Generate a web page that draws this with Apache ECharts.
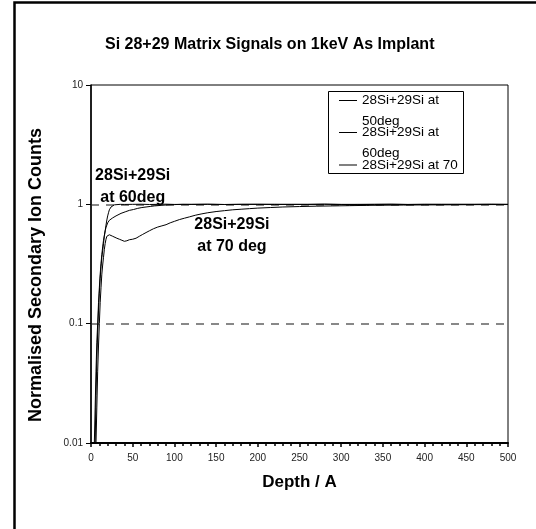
<!DOCTYPE html>
<html>
<head>
<meta charset="utf-8">
<script src="https://cdn.jsdelivr.net/npm/echarts@6/dist/echarts.min.js"></script>
<style>
html, body { margin: 0; padding: 0; background: #fff; }
#main { width: 536px; height: 529px; }
</style>
</head>
<body>
<div id="main"></div>
<script>
// depth (A) and normalised counts
var depth50 = [5, 6, 7, 8, 9, 10, 11, 12, 13, 14, 15, 16, 17, 18, 19, 20, 21, 22, 23, 24, 25, 26, 28, 30, 35, 40, 50, 60, 70, 80, 90, 100, 120, 140, 160, 180, 200, 220, 240, 260, 280, 300, 320, 340, 360, 380, 400, 420, 440, 460, 480, 500];
var val50 = [0.01, 0.025, 0.05, 0.085, 0.13, 0.18, 0.24, 0.3, 0.36, 0.41, 0.47, 0.54, 0.6, 0.67, 0.74, 0.8, 0.85, 0.9, 0.93, 0.95, 0.965, 0.975, 0.99, 0.995, 1.0, 0.998, 1.0, 1.002, 0.997, 1.0, 1.003, 0.998, 1.0, 1.002, 0.997, 1.0, 0.999, 1.002, 0.998, 1.0, 1.003, 0.997, 1.0, 0.999, 1.002, 0.998, 1.0, 1.001, 0.997, 1.0, 1.002, 1.0];

var depth60 = [4, 5, 6, 7, 8, 9, 10, 11, 12, 13, 14, 15, 16, 17, 18, 19, 20, 22, 24, 26, 30, 36, 41, 46, 51, 56, 61, 66, 71, 76, 84, 92, 100, 110, 120, 140, 160, 180, 200, 220, 240, 260, 280, 300, 320, 340, 360, 380, 400, 420, 440, 460, 480, 500];
var val60 = [0.01, 0.02, 0.04, 0.07, 0.1, 0.15, 0.2, 0.26, 0.32, 0.38, 0.44, 0.5, 0.55, 0.6, 0.64, 0.67, 0.7, 0.735, 0.755, 0.77, 0.8, 0.84, 0.865, 0.89, 0.905, 0.925, 0.94, 0.95, 0.96, 0.97, 0.98, 0.99, 0.995, 1.0, 0.998, 1.001, 0.997, 1.0, 1.002, 0.996, 1.0, 0.998, 1.002, 0.999, 0.996, 1.0, 1.001, 0.997, 1.0, 0.998, 1.002, 0.999, 1.0, 0.998];

var depth70 = [6, 7, 8, 9, 10, 11, 12, 13, 14, 15, 16, 17, 18, 19, 20, 22, 24, 26, 28, 31, 34, 37, 40, 43, 46, 50, 54, 58, 62, 66, 70, 75, 80, 85, 90, 95, 100, 106, 112, 118, 125, 132, 140, 150, 160, 170, 180, 190, 200, 215, 230, 250, 270, 290, 310, 330, 350, 375, 400, 425, 450, 475, 500];
var val70 = [0.01, 0.02, 0.04, 0.065, 0.1, 0.15, 0.2, 0.26, 0.31, 0.36, 0.42, 0.47, 0.51, 0.54, 0.553, 0.556, 0.55, 0.54, 0.535, 0.52, 0.51, 0.5, 0.49, 0.495, 0.505, 0.51, 0.52, 0.54, 0.56, 0.58, 0.6, 0.625, 0.645, 0.66, 0.675, 0.7, 0.72, 0.745, 0.765, 0.785, 0.81, 0.83, 0.85, 0.87, 0.885, 0.9, 0.91, 0.92, 0.93, 0.94, 0.95, 0.958, 0.965, 0.97, 0.975, 0.98, 0.983, 0.986, 0.989, 0.99, 0.993, 0.995, 0.996];

var seriesNames = ['28Si+29Si at\n50deg', '28Si+29Si at\n60deg', '28Si+29Si at 70'];
var yTicks = [0.01, 0.1, 1, 10];

function pairs(xs, ys) {
    return xs.map(function (x, i) { return [x, ys[i]]; });
}

var FONT = "'Liberation Sans', Arial, sans-serif";

var myChart = echarts.init(document.getElementById('main'));

// one legend per entry so the line marker sits on the first text line
function legendFor(name, top) {
    return {
        data: [name],
        left: 339,
        top: top,
        padding: 0,
        itemWidth: 18,
        itemHeight: 1,
        icon: 'rect',
        selectedMode: false,
        formatter: function (n) {
            var parts = n.split('\n');
            if (parts.length === 1) return n;
            return '{e| }\n{t|' + parts.join('}\n{t|') + '}';
        },
        textStyle: {
            fontFamily: FONT,
            fontSize: 13.5,
            color: '#000',
            lineHeight: 14,
            rich: {
                e: { fontSize: 13.5, lineHeight: 21 },
                t: { fontFamily: FONT, fontSize: 13.5, color: '#000', lineHeight: 21 }
            }
        }
    };
}

option = {
    animation: false,
    backgroundColor: '#fff',
    title: {
        text: 'Si 28+29 Matrix Signals on 1keV As Implant',
        left: 105,
        top: 37,
        padding: 0,
        textStyle: { fontFamily: FONT, fontSize: 16, fontWeight: 'bold', color: '#000' }
    },
    legend: [
        legendFor(seriesNames[0], 69),
        legendFor(seriesNames[1], 101),
        legendFor(seriesNames[2], 158)
    ],
    grid: {
        left: 91, right: 28, top: 85, bottom: 86,
        show: true, borderColor: '#000', borderWidth: 1
    },
    xAxis: {
        type: 'value',
        min: 0, max: 500, interval: 50,
        name: 'Depth / A',
        nameLocation: 'middle',
        nameGap: 31,
        nameTextStyle: { fontFamily: FONT, fontSize: 17, fontWeight: 'bold', color: '#000' },
        axisLine: { lineStyle: { color: '#000', width: 2 } },
        axisTick: { length: 4, lineStyle: { color: '#000', width: 1.5 } },
        minorTick: { show: true, splitNumber: 5, length: 3, lineStyle: { color: '#000', width: 1.5 } },
        splitLine: { show: false },
        axisLabel: { fontFamily: FONT, fontSize: 10, color: '#222', margin: 10 }
    },
    yAxis: {
        type: 'log',
        logBase: 10,
        min: yTicks[0], max: yTicks[yTicks.length - 1],
        name: 'Normalised Secondary Ion Counts',
        nameLocation: 'middle',
        nameGap: 46,
        nameTextStyle: { fontFamily: FONT, fontSize: 18, fontWeight: 'bold', color: '#000', padding: [0, 22, 0, 0] },
        axisLine: { lineStyle: { color: '#000', width: 1.5 } },
        axisTick: { length: 5, lineStyle: { color: '#000' } },
        splitLine: {
            show: true, showMinLine: false, showMaxLine: false,
            lineStyle: { color: '#888', width: 2, type: [8, 7] }
        },
        axisLabel: {
            fontFamily: FONT, fontSize: 10, color: '#222', margin: 8,
            formatter: function (v) { return String(v); }
        }
    },
    series: [
        { name: seriesNames[0], type: 'line', data: pairs(depth50, val50), showSymbol: false, lineStyle: { color: '#000', width: 1 }, itemStyle: { color: '#000' } },
        { name: seriesNames[1], type: 'line', data: pairs(depth60, val60), showSymbol: false, lineStyle: { color: '#000', width: 1 }, itemStyle: { color: '#000' } },
        { name: seriesNames[2], type: 'line', data: pairs(depth70, val70), showSymbol: false, lineStyle: { color: '#000', width: 1 }, itemStyle: { color: '#000' } }
    ]
};
myChart.setOption(option);

// annotations placed at data positions, plus the outer frame and legend box
var a1 = myChart.convertToPixel({ gridIndex: 0 }, [50, 1.4]);
var a2 = myChart.convertToPixel({ gridIndex: 0 }, [169, 0.55]);
var annoStyle = { fontFamily: FONT, fontSize: 16, fontWeight: 'bold', fill: '#000', align: 'center', verticalAlign: 'middle', lineHeight: 22 };
myChart.setOption({
    graphic: [
        { type: 'rect', left: 12, top: 0, shape: { width: 600, height: 600 }, style: { fill: 'none', stroke: '#000', lineWidth: 2.5 }, silent: true },
        { type: 'rect', left: 326, top: 89, shape: { width: 135, height: 82 }, style: { fill: 'none', stroke: '#000', lineWidth: 1 }, silent: true, z: 10 },
        { type: 'text', x: a1[0], y: a1[1], style: Object.assign({ text: '28Si+29Si\nat 60deg' }, annoStyle), z: 10 },
        { type: 'text', x: a2[0], y: a2[1], style: Object.assign({ text: '28Si+29Si\nat 70 deg' }, annoStyle), z: 10 }
    ]
});
</script>
</body>
</html>
